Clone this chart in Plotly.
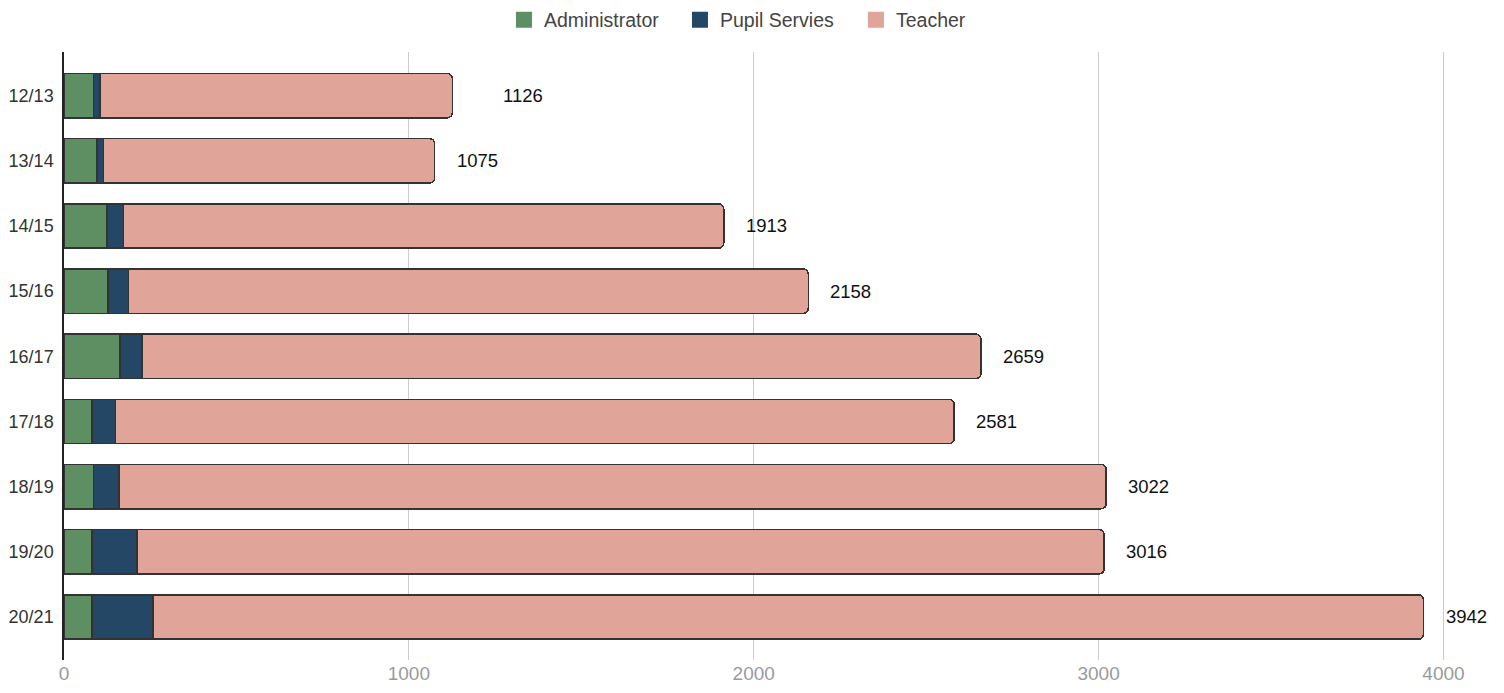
import plotly.graph_objects as go

years = ["12/13", "13/14", "14/15", "15/16", "16/17", "17/18", "18/19", "19/20", "20/21"]
administrator = [85, 95, 124, 128, 162, 81, 86, 81, 81]
pupil_services = [20, 20, 49, 59, 64, 68, 73, 130, 177]
totals = [1126, 1075, 1913, 2158, 2659, 2581, 3022, 3016, 3942]
teacher = [t - a - p for t, a, p in zip(totals, administrator, pupil_services)]

series = [("Administrator", administrator, "#5e8f62"),
          ("Pupil Servies", pupil_services, "#254766"),
          ("Teacher", teacher, "#e0a498")]

# label offsets in pixels (style, not data)
label_shift_default = 20
label_shift_special = {"12/13": 49}

fig = go.Figure()
line = dict(color="#333333", width=1.5)
for name, vals, color in series:
    fig.add_trace(go.Bar(y=years, x=vals, name=name, orientation="h", showlegend=False,
                         marker=dict(color=color, line=line)))
# legend proxies with square swatches
for name, vals, color in series:
    fig.add_trace(go.Scatter(x=[None], y=[None], mode="markers", name=name,
                             marker=dict(symbol="square", size=19, color=color,
                                         line=dict(width=0))))

for y, t in zip(years, totals):
    fig.add_annotation(x=t, y=y, text=str(t), showarrow=False, xanchor="left",
                       xshift=label_shift_special.get(y, label_shift_default),
                       font=dict(size=18.5, color="#111"))

fig.update_layout(
    width=1496, height=685,
    barmode="stack", bargap=0.32, barcornerradius=5,
    plot_bgcolor="white", paper_bgcolor="white",
    margin=dict(l=56, r=26, t=44, b=33),
    font=dict(family="Liberation Sans, Arial, sans-serif", size=18, color="#333"),
    legend=dict(orientation="h", x=0.508, xanchor="center", xref="container",
                y=0.9825, yanchor="middle", yref="container",
                font=dict(size=19.5, color="#444"), traceorder="normal",
                itemwidth=30, entrywidth=131, entrywidthmode="pixels"),
    xaxis=dict(range=[0, 4100], tickvals=[0, 1000, 2000, 3000, 4000],
               showgrid=True, gridcolor="#cccccc", gridwidth=1, zeroline=False,
               tickfont=dict(size=19, color="#9a9a9a"), ticks="", showline=False,
               automargin=False),
    yaxis=dict(categoryorder="array", categoryarray=years, range=[8.66, -0.67],
               showline=True, linecolor="#222", linewidth=1.5, ticks="",
               tickfont=dict(size=18, color="#333"), showgrid=False,
               ticklabelstandoff=5, automargin=False),
)
fig.write_html("out.html")
